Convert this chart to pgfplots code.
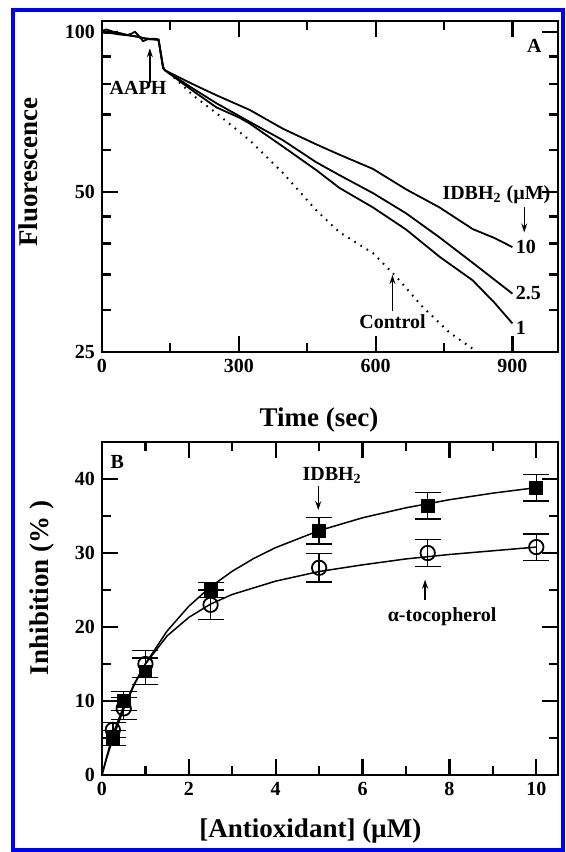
\documentclass[border=0pt]{standalone}
\usepackage{fontspec}
\setmainfont{Liberation Serif}
\usepackage{pgfplots}
\pgfplotsset{compat=1.18}
\usetikzlibrary{arrows.meta}

\tikzset{
  arr/.style={line width=0.7pt, -{Stealth[length=4.5pt,width=3pt]}},
  note/.style={font=\fontsize{10}{10}\selectfont\bfseries, inner sep=0pt},
}
\pgfplotsset{
  panel/.style={
    scale only axis, width=228pt,
    axis line style={line width=0.9pt},
    tick align=inside, xtick pos=both, ytick pos=both,
    major tick length=8pt, minor tick length=4.5pt,
    tick style={black, line width=1.1pt},
    tick label style={font=\fontsize{10}{10}\selectfont\bfseries},
    /pgf/number format/assume math mode=true,
    label style={font=\fontsize{13.5}{13.5}\selectfont\bfseries},
  },
}

\begin{document}
\begin{tikzpicture}
\fill[white] (0,0) rectangle (283pt,426pt);
\path[use as bounding box] (0,0) rectangle (283pt,426pt);
\draw[blue, line width=2pt] (6.5pt,1pt) rectangle (281.5pt,421pt);

% ---- panel A
\begin{axis}[panel,
  at={(51pt,250pt)}, anchor=south west, height=165.5pt,
  xmin=0, xmax=1000, ymin=25, ymax=105, ymode=log,
  xtick={0,300,600,900}, minor xtick={150,450,750},
  ytick={25,50,100}, yticklabels={25,50,100},
  minor ytick={30,35,40,45,60,70,80,90},
  xlabel={Time (sec)}, ylabel={Fluorescence},
  xlabel style={at={(axis description cs:0.476,-0.2266)}, anchor=base},
  ylabel style={at={(axis description cs:-0.1425,0.5438)}, anchor=base},
]
\addplot[black, line width=1pt, dash pattern=on 0.8pt off 2.8pt] coordinates {
  (134,85.7) (156,82.5) (200,76.0) (251,70.4) (324,62.6) (397,54.3) (470,46.2)
  (521,42.0) (594,38.4) (646,34.6) (703,30.4) (762,27.2) (823,25.0) (840,24.5)};
\addplot[black, line width=0.9pt] coordinates {
  (0,99.8) (20,99.6) (40,99.0) (60,98.6) (75,98.2) (90,97.5) (105,97.0) (124,96.7)
  (134,85.6) (138,84.8) (200,77.5) (251,72.2) (302,69.0) (324,67.3) (397,60.9)
  (470,55.0) (521,50.9) (594,46.8) (667,42.5) (740,37.8) (813,34.1) (860,31.0) (900,28.3)};
\addplot[black, line width=0.9pt] coordinates {
  (0,100.2) (15,100.0) (30,99.8) (50,99.0) (65,98.5) (80,98.0) (95,97.3) (110,97.2) (124,96.9)
  (134,85.8) (138,84.8) (200,78.3) (251,73.5) (324,67.8) (397,62.6) (470,56.9)
  (521,53.8) (594,49.8) (667,45.6) (740,41.1) (813,36.8) (900,32.2)};
\addplot[black, line width=0.9pt] coordinates {
  (0,100.6) (10,101.2) (25,100.2) (40,99.6) (55,98.8) (65,99.4) (72,100.2) (80,98.6)
  (90,96.2) (100,97.0) (116,97.2) (124,96.8) (134,86.0) (138,84.8) (200,79.8)
  (251,76.1) (324,71.4) (397,65.8) (470,61.5) (521,58.8) (594,55.3) (667,50.6)
  (740,46.8) (813,42.6) (860,41.0) (900,39.4)};
\node[note] at (axis cs:79,78.4) {AAPH};
\draw[arr] (axis cs:105,80.2) -- (axis cs:105,93.3);
\node[note] at (axis cs:948,94.4) {A};
\node[note] at (axis cs:865,49.4) {IDBH\textsubscript{2} (µM)};
\draw[arr] (axis cs:926,46.9) -- (axis cs:926,42.0);
\node[note, anchor=west] at (axis cs:907,39.4) {10};
\node[note, anchor=west] at (axis cs:907,32.3) {2.5};
\node[note, anchor=west] at (axis cs:907,27.8) {1};
\node[note] at (axis cs:637,28.5) {Control};
\draw[arr] (axis cs:637,29.8) -- (axis cs:637,34.9);
\end{axis}

% ---- panel B
\begin{axis}[panel,
  at={(51pt,38.5pt)}, anchor=south west, height=166.5pt,
  xmin=0, xmax=10.5, ymin=0, ymax=45,
  xtick={0,2,4,6,8,10}, minor xtick={1,3,5,7,9},
  ytick={0,10,20,30,40}, minor ytick={5,15,25,35},
  xlabel={[Antioxidant] (µM)}, ylabel={Inhibition (\% )},
  xlabel style={at={(axis description cs:0.457,-0.189)}, anchor=base},
  ylabel style={at={(axis description cs:-0.1165,0.5616)}, anchor=base},
  error bars/error bar style={line width=0.75pt, black},
  error bars/error mark options={rotate=90, mark size=6.5pt, line width=0.75pt, black},
]
\addplot[black, line width=0.75pt] coordinates {
  (0,0) (0.1,2.11) (0.25,4.95) (0.5,8.95) (0.75,12.27) (1,15.05) (1.5,19.46)
  (2,22.81) (2.5,25.43) (3,27.54) (3.5,29.28) (4,30.73) (5,33.03) (6,34.76)
  (7,36.11) (8,37.20) (9,38.09) (10,38.83)};
\addplot[black, line width=0.75pt] coordinates {
  (0,0) (0.1,2.3) (0.25,5.5) (0.5,9.3) (0.75,12.4) (1,15.0) (1.5,18.8) (2,21.3)
  (2.5,23.1) (3,24.4) (4,26.2) (5,27.5) (6,28.4) (7,29.2) (8,29.8) (9,30.3) (10,30.8)};
\addplot[only marks, mark=square*, mark size=3.2pt, black,
  error bars/.cd, y dir=both, y explicit] coordinates {
  (0.25,5.0) +- (0,1.0)
  (0.5,10.0) +- (0,1.3)
  (1,14.0) +- (0,1.8)
  (2.5,25.0) +- (0,1.0)
  (5,33.0) +- (0,1.8)
  (7.5,36.4) +- (0,1.8)
  (10,38.8) +- (0,1.8)};
\addplot[only marks, mark=o, mark size=3.6pt, black, mark options={line width=0.9pt},
  error bars/.cd, y dir=both, y explicit] coordinates {
  (0.25,6.1) +- (0,1.0)
  (0.5,9.0) +- (0,1.5)
  (1,15.0) +- (0,1.8)
  (2.5,23.0) +- (0,2.0)
  (5,28.0) +- (0,1.9)
  (7.5,30.0) +- (0,1.8)
  (10,30.8) +- (0,1.8)};
\node[note] at (axis cs:0.35,42.3) {B};
\node[note] at (axis cs:5.3,40.5) {IDBH\textsubscript{2}};
\draw[arr] (axis cs:4.98,39.1) -- (axis cs:4.98,35.8);
\node[note] at (axis cs:7.83,21.4) {α-tocopherol};
\draw[arr] (axis cs:7.44,23.6) -- (axis cs:7.44,26.4);
\end{axis}
\end{tikzpicture}
\end{document}
